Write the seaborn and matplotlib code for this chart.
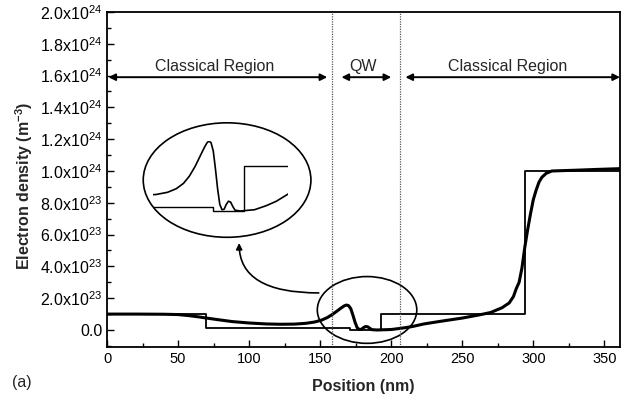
import matplotlib
matplotlib.use("Agg")
import matplotlib.pyplot as plt
import matplotlib.ticker as mticker
from matplotlib.patches import Ellipse
import seaborn as sns
import pandas as pd
import numpy as np

# ---- data (position in nm, density in units of 1e23 m^-3) ----
density_x = [0, 20, 40, 50, 58, 64, 70, 78, 88, 100, 112, 122, 132, 140, 146, 151, 155,
             159, 162, 165, 167, 168.5, 170, 171.5, 173, 174.5, 176, 177.5, 179, 180.5,
             182, 183.5, 185, 186.5, 190, 200, 208, 215, 223, 235, 250, 262, 270, 278,
             283, 286, 288, 290, 292, 294, 296, 298, 300, 302, 304, 306, 309, 313, 330,
             345, 362]
density_y = [1.0, 1.0, 0.99, 0.97, 0.9, 0.83, 0.75, 0.65, 0.53, 0.44, 0.38, 0.36, 0.37,
             0.42, 0.5, 0.62, 0.78, 1.0, 1.2, 1.4, 1.52, 1.57, 1.53, 1.35, 0.95, 0.5,
             0.15, 0.03, 0.04, 0.15, 0.22, 0.2, 0.1, 0.02, 0.0, 0.03, 0.12, 0.22, 0.38,
             0.55, 0.75, 0.95, 1.1, 1.4, 1.7, 2.1, 2.6, 3.0, 3.9, 5.2, 6.3, 7.3, 8.2,
             8.8, 9.3, 9.6, 9.85, 10.0, 10.05, 10.1, 10.15]
doping_x = [0, 70, 70, 171, 171, 193, 193, 294, 294, 362]
doping_y = [1.0, 1.0, 0.1, 0.1, 0.0, 0.0, 1.0, 1.0, 10.0, 10.0]
qw_bounds = [158, 206]
region_labels = ["Classical Region", "QW", "Classical Region"]
region_text_x = [76, 180, 282]
region_arrows = [(1, 155), (165, 200), (210, 361)]
SCALE = 1e23

dens = pd.DataFrame({"x": density_x, "y": np.array(density_y) * SCALE})
dop = pd.DataFrame({"x": doping_x, "y": np.array(doping_y) * SCALE})

sns.set_theme(style="ticks")
plt.rcParams["font.family"] = ["Liberation Sans", "DejaVu Sans"]
plt.rcParams["mathtext.default"] = "regular"

W, H = 629, 409
fig = plt.figure(figsize=(W / 100, H / 100), dpi=100)
ax = fig.add_axes([107 / W, 62 / H, 513 / W, 335 / H])

sns.lineplot(data=dop, x="x", y="y", ax=ax, color="black", lw=1.3, sort=False,
             estimator=None)
sns.lineplot(data=dens, x="x", y="y", ax=ax, color="black", lw=2.2, sort=False,
             estimator=None)

for xb in qw_bounds:
    ax.axvline(xb, color="#555555", lw=0.9, ls=(0, (1, 1)))

ax.set_xlim(0, 361)
ax.set_ylim(-1.07e23, 2.0e24)
ax.xaxis.set_major_locator(mticker.MultipleLocator(50))
ax.xaxis.set_minor_locator(mticker.MultipleLocator(25))
ax.yaxis.set_major_locator(mticker.MultipleLocator(2e23))
ax.yaxis.set_minor_locator(mticker.MultipleLocator(1e23))


def yfmt(v, pos):
    if abs(v) < 1e20:
        return "0.0"
    e = int(np.floor(np.log10(abs(v)) + 1e-9))
    m = v / 10 ** e
    return f"{m:.1f}x10$^{{{e}}}$"


ax.yaxis.set_major_formatter(mticker.FuncFormatter(yfmt))
ax.tick_params(which="both", direction="in", top=False, right=False, width=1.0,
               colors="black")
ax.tick_params(axis="x", labelsize=10.5)
ax.tick_params(axis="y", labelsize=11.5)
ax.tick_params(which="major", length=5)
ax.tick_params(which="minor", length=3)
for s in ax.spines.values():
    s.set_linewidth(1.3)
    s.set_color("black")

ax.set_xlabel("Position (nm)", fontsize=11.5, fontweight="bold")
ax.set_ylabel("Electron density (m$^{-3}$)", fontsize=11.5, fontweight="bold")
ax.xaxis.set_label_coords(0.5, -0.095)
ax.yaxis.set_label_coords(-0.14, 0.48)
fig.text(22 / W, 1 - 383 / H, "(a)", fontsize=11.5, ha="center", va="center")

# region annotations
for lab, tx, (a0, a1) in zip(region_labels, region_text_x, region_arrows):
    ax.text(tx, 1.66e24, lab, ha="center", va="center", fontsize=11.5)
    ax.annotate("", xy=(a1, 1.59e24), xytext=(a0, 1.59e24),
                arrowprops=dict(arrowstyle="<|-|>", color="black", lw=1.4,
                                mutation_scale=10, shrinkA=0, shrinkB=0))

# ellipses
ax.add_patch(Ellipse((183, 1.26e23), 70, 4.2e23, fill=False, ec="black", lw=1.2))
ax.add_patch(Ellipse((84.5, 9.43e23), 118, 7.2e23, fill=False, ec="black", lw=1.2))

ax.annotate("", xy=(93, 5.47e23), xytext=(149, 2.33e23),
            arrowprops=dict(arrowstyle="-|>", color="black", lw=1.2, mutation_scale=9,
                            shrinkA=0, shrinkB=0,
                            connectionstyle="angle3,angleA=0,angleB=90"))

# magnified inset inside the big ellipse
ins = fig.add_axes([153 / W, (H - 215.5) / H, 135 / W, 74.5 / H])
sns.lineplot(data=dop, x="x", y="y", ax=ins, color="black", lw=1.0, sort=False,
             estimator=None)
sns.lineplot(data=dens, x="x", y="y", ax=ins, color="black", lw=1.2, sort=False,
             estimator=None)
ins.set_xlim(130, 223)
ins.set_ylim(-0.1e23, 1.57e23)
ins.axis("off")
ins.patch.set_alpha(0)

fig.savefig("out.png", dpi=100)
